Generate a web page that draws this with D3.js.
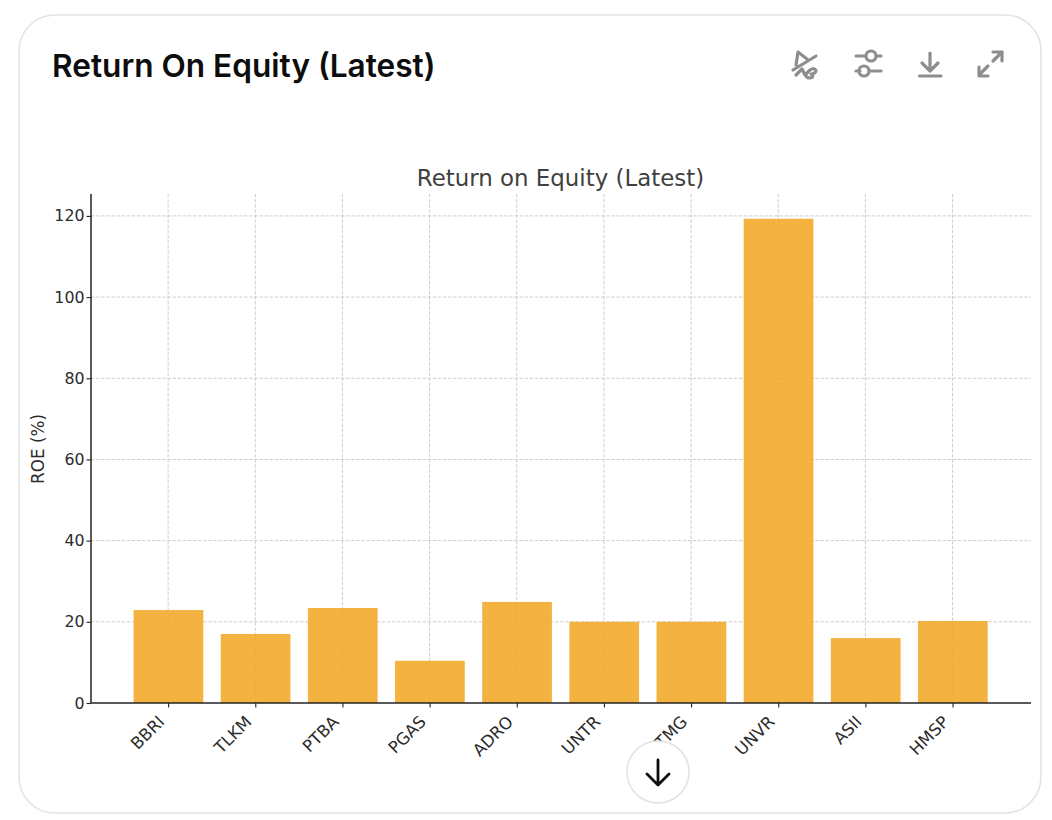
<!DOCTYPE html>
<html><head><meta charset="utf-8">
<script src="https://cdnjs.cloudflare.com/ajax/libs/d3/7.8.5/d3.min.js"></script>
<style>html,body{margin:0;padding:0;background:#fff;overflow:hidden}svg{display:block}</style>
</head><body><svg id="c" width="1052" height="820"></svg>
<script>
const categories = ["BBRI","TLKM","PTBA","PGAS","ADRO","UNTR","ITMG","UNVR","ASII","HMSP"];
const roeValues = [22.9,17,23.4,10.4,24.9,20,20,119.3,16,20.2];
const yTicks = [0,20,40,60,80,100,120];
const cardTitle = "Return On Equity (Latest)";
const chartTitle = "Return on Equity (Latest)";
const yLabel = "ROE (%)";

const svg = d3.select("#c");
const mpl = "'DejaVu Sans',sans-serif";
const ui = "Inter,'Noto Sans',sans-serif";
svg.append("rect").attr("x",19).attr("y",15).attr("width",1022).attr("height",798).attr("rx",36)
  .attr("fill","#fff").attr("stroke","#e3e3e3").attr("stroke-width",1.6);
svg.append("text").attr("x",52).attr("y",76.5).attr("font-family",ui).attr("font-size",31.6)
  .attr("font-weight",600).attr("fill","#0d0d0d").text(cardTitle);

const L=91,R=1031,T=194,B=703;
const x = d3.scaleLinear().domain([-0.885,9.9]).range([L,R]);
const y = d3.scaleLinear().domain([0,125.4]).range([B,T]);
const barW = x(0.8)-x(0);

const gridG = svg.append("g");
gridG.selectAll("line.h").data(yTicks.slice(1)).join("line").attr("class","h")
  .attr("x1",L).attr("x2",R).attr("y1",d=>y(d)).attr("y2",d=>y(d));
gridG.selectAll("line.v").data(categories).join("line").attr("class","v")
  .attr("x1",(d,i)=>x(i)).attr("x2",(d,i)=>x(i)).attr("y1",T).attr("y2",B);
gridG.selectAll("line").attr("stroke","#c8c8c8").attr("stroke-width",0.9).attr("stroke-dasharray","3.5 1.6");

svg.append("g").selectAll("rect").data(roeValues).join("rect")
  .attr("x",(d,i)=>x(i)-barW/2+0.3).attr("width",barW)
  .attr("y",d=>y(d)).attr("height",d=>B-y(d))
  .attr("fill","#f2a825").attr("fill-opacity",0.87);

const yAxis = svg.append("g").attr("transform",`translate(${L},0)`)
  .call(d3.axisLeft(y).tickValues(yTicks).tickSize(4.5).tickPadding(2).tickSizeOuter(0));
const xAxis = svg.append("g").attr("transform",`translate(0,${B})`)
  .call(d3.axisBottom(x).tickValues(d3.range(categories.length)).tickFormat(i=>categories[i]).tickSize(4.5).tickSizeOuter(0));
xAxis.select(".domain").remove();
yAxis.select(".domain").remove();
svg.append("line").attr("x1",L).attr("x2",R).attr("y1",B).attr("y2",B).attr("stroke","#222").attr("stroke-width",1.5);
svg.append("line").attr("x1",L).attr("x2",L).attr("y1",T).attr("y2",B).attr("stroke","#222").attr("stroke-width",1.5);
svg.selectAll(".tick line").attr("stroke","#222").attr("stroke-width",1.1);
yAxis.selectAll("text").attr("font-family",mpl).attr("font-size",15.8).attr("fill","#2b2b2b");
xAxis.selectAll("text").attr("font-family",mpl).attr("font-size",16.6).attr("fill","#2b2b2b")
  .attr("text-anchor","end").attr("dy",0).attr("y",0)
  .attr("transform","translate(-7,16) rotate(-45)").attr("dominant-baseline","central");

svg.append("text").attr("x",560.5).attr("y",186).attr("text-anchor","middle").attr("font-family",mpl)
  .attr("font-size",22.9).attr("fill","#404040").text(chartTitle);
svg.append("text").attr("transform","translate(44,449) rotate(-90)").attr("text-anchor","middle")
  .attr("font-family",mpl).attr("font-size",16.8).attr("fill","#2b2b2b").text(yLabel);

// toolbar icons
const icon = svg.append("g").attr("fill","none").attr("stroke","#8e8e8e").attr("stroke-width",3.2)
  .attr("stroke-linecap","round").attr("stroke-linejoin","round");
icon.append("path").attr("d","M793 70 L816 56 M796 65 L798 52 L807 59 M796 75 L802 69 L805 75 L810 70 Q815 67 816 71 Q815 74 811 74 Q815 77 810 78 Q807 78 806 76");
icon.append("path").attr("d","M856 56 L865 56 M876 56 L881 56 M871 56 m-5 0 a5 5 0 1 0 10 0 a5 5 0 1 0 -10 0 M860 71 L856 71 M871 71 L881 71 M864 71 m-5 0 a5 5 0 1 0 10 0 a5 5 0 1 0 -10 0");
icon.append("path").attr("d","M930 53 L930 71 M922 63 L930 71 L938 63 M919.5 76 L941 76");
icon.append("path").attr("d","M993 61 L1002 52 M993 52 L1002 52 L1002 61 M988 66 L979 75 M979 67 L979 76 L988 76");

// scroll button
svg.append("circle").attr("cx",658).attr("cy",772).attr("r",31).attr("fill","#fff").attr("stroke","#e3e3e3").attr("stroke-width",1.6);
svg.append("path").attr("d","M658 760 L658 784 M647 774 L658 785 L669 774").attr("fill","none").attr("stroke","#0d0d0d")
  .attr("stroke-width",2.8).attr("stroke-linecap","round").attr("stroke-linejoin","round");
</script></body></html>
